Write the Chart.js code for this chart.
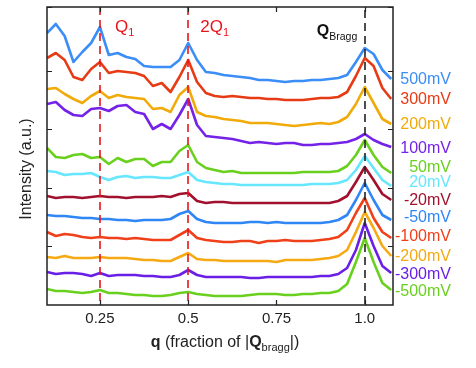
<!DOCTYPE html>
<html>
<head>
<meta charset="utf-8">
<script src="https://cdn.jsdelivr.net/npm/chart.js@4.4.1/dist/chart.umd.min.js"></script>
<style>
    body { margin: 0; background: #fff; }
</style>
</head>
<body>
<canvas id="fftChart" width="476" height="368"></canvas>
<script>
// q in fraction of |Q_bragg|
const q = [0.100, 0.125, 0.150, 0.175, 0.200, 0.225, 0.250, 0.275, 0.300, 0.325,
           0.350, 0.375, 0.400, 0.425, 0.450, 0.475, 0.500, 0.525, 0.550, 0.575,
           0.600, 0.625, 0.650, 0.675, 0.700, 0.725, 0.750, 0.775, 0.800, 0.825,
           0.850, 0.875, 0.900, 0.925, 0.950, 0.975, 1.000, 1.025, 1.050, 1.075];

const biasLabels = ['500mV', '300mV', '200mV', '100mV', '50mV', '20mV',
                    '-20mV', '-50mV', '-100mV', '-200mV', '-300mV', '-500mV'];

// intensity (a.u.), curves already offset like in the figure
const i500 = [272, 281, 269, 243, 253, 262, 278, 250, 252, 248, 246, 239, 238, 238, 238, 245, 262, 245, 233, 232,
              230, 229, 228, 227, 225, 225, 224, 223, 224, 224, 225, 225, 226, 227, 230, 243, 257, 251, 235, 226];
const i300 = [247, 252, 245, 228, 225, 236, 243, 232, 234, 233, 232, 229, 219, 222, 213, 228, 245, 223, 212, 209,
              208, 209, 208, 207, 207, 206, 206, 205, 205, 205, 206, 207, 207, 208, 213, 229, 247, 239, 217, 206];
const i200 = [216, 217, 211, 206, 202, 209, 214, 207, 210, 208, 207, 206, 196, 197, 193, 210, 218, 193, 189, 188,
              186, 185, 184, 182, 182, 182, 181, 180, 179, 180, 181, 182, 181, 183, 188, 201, 218, 202, 186, 181];
const i100 = [201, 203, 195, 190, 189, 196, 197, 194, 199, 200, 193, 191, 176, 181, 176, 190, 206, 180, 169, 168,
              167, 166, 164, 162, 163, 162, 161, 162, 162, 160, 160, 161, 161, 162, 163, 166, 171, 165, 161, 158];
const i50 = [157, 148, 147, 150, 151, 147, 148, 141, 147, 143, 146, 146, 139, 143, 143, 154, 160, 143, 137, 135,
             133, 134, 132, 132, 132, 132, 132, 132, 132, 133, 133, 133, 133, 134, 139, 150, 165, 150, 138, 132];
const i20 = [134, 133, 130, 131, 131, 132, 128, 125, 128, 129, 127, 128, 128, 127, 127, 130, 133, 125, 123, 122,
             121, 121, 120, 120, 120, 120, 120, 120, 120, 120, 121, 121, 121, 122, 125, 135, 149, 137, 125, 119];
const im20 = [109, 107, 108, 108, 107, 108, 109, 108, 108, 107, 108, 108, 108, 109, 108, 111, 112, 104, 102, 103,
              103, 102, 102, 102, 102, 102, 102, 102, 102, 102, 102, 102, 102, 104, 109, 123, 138, 125, 111, 105];
const im50 = [90, 89, 89, 88, 87, 87, 86, 86, 85, 85, 84, 85, 85, 85, 86, 91, 94, 86, 83, 82,
              82, 82, 82, 83, 83, 82, 83, 82, 82, 82, 82, 82, 83, 85, 90, 105, 122, 105, 90, 85];
const im100 = [73, 69, 71, 70, 68, 67, 68, 67, 67, 66, 67, 66, 65, 65, 65, 70, 75, 67, 65, 64,
               63, 63, 64, 64, 62, 64, 64, 65, 64, 64, 64, 65, 66, 68, 75, 92, 107, 87, 73, 67];
const im200 = [48, 47, 49, 47, 47, 47, 48, 47, 47, 47, 46, 45, 45, 44, 44, 48, 52, 46, 45, 45,
               44, 44, 44, 44, 44, 44, 43, 45, 45, 45, 45, 46, 47, 49, 55, 73, 93, 77, 59, 49];
const im300 = [33, 31, 32, 32, 31, 29, 32, 29, 30, 30, 30, 29, 29, 28, 28, 30, 35, 30, 28, 28,
               28, 28, 28, 27, 27, 28, 28, 28, 28, 28, 28, 29, 29, 31, 37, 55, 82, 59, 39, 32];
const im500 = [16, 14, 14, 13, 12, 13, 15, 12, 12, 11, 10, 10, 9, 9, 10, 12, 13, 11, 10, 9,
               9, 9, 9, 10, 11, 11, 11, 10, 10, 11, 11, 12, 12, 14, 21, 43, 67, 43, 22, 15];

const xTickValues = [0.25, 0.5, 0.75, 1.0];
const q1Lines = [0.25, 0.5];
const qBragg = 1.0;

const colors = ['#3b8df7', '#e63b14', '#f0aa0a', '#7522e8', '#69d01e', '#66e6ff',
                '#a1112e', '#2f86f5', '#f0401a', '#f5a912', '#6a1fe6', '#69d01e'];
const allSeries = [i500, i300, i200, i100, i50, i20, im20, im50, im100, im200, im300, im500];
// small vertical nudges (px) so the bias labels don't collide
const labelNudge = [1, 1, 1, 2, -5, -3, 1, -2, -1, 1, 2, 2];

const FONT = '"Liberation Sans", Arial, sans-serif';
const INK = '#222';

const datasets = allSeries.map((vals, i) => ({
    label: biasLabels[i],
    data: q.map((x, k) => ({ x: x, y: vals[k] })),
    borderColor: colors[i],
    borderWidth: 2.6,
    pointRadius: 0,
    tension: 0,
    borderJoinStyle: 'round',
    order: allSeries.length - i
}));

function drawSub(ctx, parts, x, y) {
    // parts: [text, font, dy]
    parts.forEach(p => {
        ctx.font = p[1];
        ctx.fillText(p[0], x, y + p[2]);
        x += ctx.measureText(p[0]).width;
    });
}

function partsWidth(ctx, parts) {
    let w = 0;
    parts.forEach(p => { ctx.font = p[1]; w += ctx.measureText(p[0]).width; });
    return w;
}

const decorPlugin = {
    id: 'decor',
    afterDatasetsDraw(chart) {
        const ctx = chart.ctx;
        const a = chart.chartArea;
        const xs = chart.scales.x;
        const ys = chart.scales.y;
        ctx.save();

        // dashed markers
        ctx.lineWidth = 1.6;
        ctx.setLineDash([8, 5]);
        ctx.strokeStyle = '#e8141c';
        q1Lines.forEach(v => {
            const px = Math.round(xs.getPixelForValue(v));
            ctx.beginPath();
            ctx.moveTo(px, a.top);
            ctx.lineTo(px, a.bottom);
            ctx.stroke();
        });
        ctx.strokeStyle = '#222';
        const pb = Math.round(xs.getPixelForValue(qBragg));
        ctx.beginPath();
        ctx.moveTo(pb, a.top + 3);
        ctx.lineTo(pb, a.bottom);
        ctx.stroke();
        ctx.setLineDash([]);

        // frame and inward ticks
        ctx.strokeStyle = INK;
        ctx.lineWidth = 1.5;
        ctx.strokeRect(a.left, a.top, a.right - a.left, a.bottom - a.top);
        ctx.lineWidth = 1.2;
        xTickValues.forEach(v => {
            const px = Math.round(xs.getPixelForValue(v)) + 0.5;
            ctx.beginPath();
            ctx.moveTo(px, a.bottom); ctx.lineTo(px, a.bottom - 5);
            ctx.moveTo(px, a.top); ctx.lineTo(px, a.top + 5);
            ctx.stroke();
        });
        ys.ticks.forEach(t => {
            const py = Math.round(ys.getPixelForValue(t.value)) + 0.5;
            if (py > a.bottom - 2) return;
            ctx.beginPath();
            ctx.moveTo(a.left, py); ctx.lineTo(a.left + 5, py);
            ctx.moveTo(a.right, py); ctx.lineTo(a.right - 5, py);
            ctx.stroke();
        });
        ctx.restore();
    },
    afterDraw(chart) {
        const ctx = chart.ctx;
        const xs = chart.scales.x;
        const ys = chart.scales.y;
        ctx.save();
        ctx.textBaseline = 'alphabetic';

        // Q1 / 2Q1 / QBragg
        ctx.fillStyle = '#e8141c';
        const x1 = xs.getPixelForValue(q1Lines[0]);
        const x2 = xs.getPixelForValue(q1Lines[1]);
        drawSub(ctx, [['Q', '17px ' + FONT, 0], ['1', '11px ' + FONT, 4]], x1 + 15, 32);
        drawSub(ctx, [['2Q', '17px ' + FONT, 0], ['1', '11px ' + FONT, 4]], x2 + 12, 32);
        ctx.fillStyle = '#111';
        const xb = xs.getPixelForValue(qBragg);
        drawSub(ctx, [['Q', 'bold 16px ' + FONT, 0], ['Bragg', '10.5px ' + FONT, 4]], xb - 48, 36);

        // bias labels at the right end of each curve
        ctx.textAlign = 'right';
        ctx.textBaseline = 'middle';
        ctx.font = '16px ' + FONT;
        allSeries.forEach((vals, i) => {
            ctx.fillStyle = colors[i];
            ctx.fillText(biasLabels[i], 451, ys.getPixelForValue(vals[vals.length - 1]) + labelNudge[i]);
        });

        // axis titles
        ctx.textAlign = 'left';
        ctx.textBaseline = 'alphabetic';
        ctx.fillStyle = INK;
        const title = [['q', 'bold 16px ' + FONT, 0], [' (fraction of |', '16px ' + FONT, 0],
                       ['Q', 'bold 16px ' + FONT, 0], ['bragg', '11px ' + FONT, 4], ['|)', '16px ' + FONT, 0]];
        const w = partsWidth(ctx, title);
        drawSub(ctx, title, 225 - w / 2, 347);

        ctx.translate(27, 169);
        ctx.rotate(-Math.PI / 2);
        ctx.textAlign = 'center';
        ctx.textBaseline = 'middle';
        ctx.font = '16px ' + FONT;
        ctx.fillText('Intensity (a.u.)', 0, 0);
        ctx.restore();
    }
};

new Chart(document.getElementById('fftChart'), {
    type: 'line',
    data: { datasets: datasets },
    options: {
        responsive: false,
        animation: false,
        layout: { padding: { left: 0, right: 83, top: 7, bottom: 0 } },
        plugins: { legend: { display: false }, tooltip: { enabled: false } },
        scales: {
            x: {
                type: 'linear',
                min: 0.1,
                max: 1.08,
                afterBuildTicks: s => { s.ticks = xTickValues.map(v => ({ value: v })); },
                afterFit: s => { s.height = 63; },
                grid: { display: false, drawTicks: false },
                border: { display: false },
                ticks: {
                    padding: 5,
                    color: INK,
                    font: { family: FONT, size: 15 },
                    maxRotation: 0,
                    callback: v => (v === 1 ? '1.0' : String(v))
                }
            },
            y: {
                min: 0,
                max: 298,
                afterFit: s => { s.width = 47; },
                grid: { display: false, drawTicks: false },
                border: { display: false },
                ticks: { display: false, stepSize: 58.6 }
            }
        }
    },
    plugins: [decorPlugin]
});
</script>
</body>
</html>
